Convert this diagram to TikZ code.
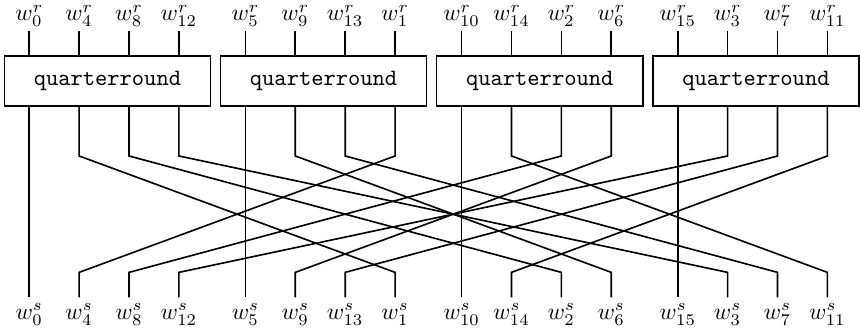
\documentclass[tikz,border=0pt]{standalone}
\usetikzlibrary{positioning}

\begin{document}
\begin{tikzpicture}[
  wire/.style={line width=0.7pt},
  qbox/.style={
    draw,
    line width=0.7pt,
    minimum width=3.1cm,
    minimum height=0.75cm,
    font=\ttfamily
  },
  inlabel/.style={anchor=south, inner sep=1.8pt},
  outlabel/.style={anchor=north, inner sep=2.6pt}
]
\useasboundingbox (-0.44,0.47) rectangle (12.49,-4.52);

% Kink heights
\coordinate (high) at (0,-1.875);
\coordinate (low) at (0,-3.625);

% Input words
\node[inlabel] (r0)  at (0,0)     {$w^r_{0}$};
\node[inlabel] (r4)  at (0.75,0)  {$w^r_{4}$};
\node[inlabel] (r8)  at (1.5,0)   {$w^r_{8}$};
\node[inlabel] (r12) at (2.25,0)  {$w^r_{12}$};
\node[inlabel] (r5)  at (3.25,0)  {$w^r_{5}$};
\node[inlabel] (r9)  at (4,0)     {$w^r_{9}$};
\node[inlabel] (r13) at (4.75,0)  {$w^r_{13}$};
\node[inlabel] (r1)  at (5.5,0)   {$w^r_{1}$};
\node[inlabel] (r10) at (6.5,0)   {$w^r_{10}$};
\node[inlabel] (r14) at (7.25,0)  {$w^r_{14}$};
\node[inlabel] (r2)  at (8,0)     {$w^r_{2}$};
\node[inlabel] (r6)  at (8.75,0)  {$w^r_{6}$};
\node[inlabel] (r15) at (9.75,0)  {$w^r_{15}$};
\node[inlabel] (r3)  at (10.5,0)  {$w^r_{3}$};
\node[inlabel] (r7)  at (11.25,0) {$w^r_{7}$};
\node[inlabel] (r11) at (12,0)    {$w^r_{11}$};

% Quarterround boxes
\node[qbox] (qr0) at (1.175,-0.75)  {quarterround};
\node[qbox] (qr1) at (4.425,-0.75)  {quarterround};
\node[qbox] (qr2) at (7.675,-0.75)  {quarterround};
\node[qbox] (qr3) at (10.925,-0.75) {quarterround};

% Output words
\node[outlabel] (s0)  at (0,-4)     {$w^s_{0}$};
\node[outlabel] (s4)  at (0.75,-4)  {$w^s_{4}$};
\node[outlabel] (s8)  at (1.5,-4)   {$w^s_{8}$};
\node[outlabel] (s12) at (2.25,-4)  {$w^s_{12}$};
\node[outlabel] (s5)  at (3.25,-4)  {$w^s_{5}$};
\node[outlabel] (s9)  at (4,-4)     {$w^s_{9}$};
\node[outlabel] (s13) at (4.75,-4)  {$w^s_{13}$};
\node[outlabel] (s1)  at (5.5,-4)   {$w^s_{1}$};
\node[outlabel] (s10) at (6.5,-4)   {$w^s_{10}$};
\node[outlabel] (s14) at (7.25,-4)  {$w^s_{14}$};
\node[outlabel] (s2)  at (8,-4)     {$w^s_{2}$};
\node[outlabel] (s6)  at (8.75,-4)  {$w^s_{6}$};
\node[outlabel] (s15) at (9.75,-4)  {$w^s_{15}$};
\node[outlabel] (s3)  at (10.5,-4)  {$w^s_{3}$};
\node[outlabel] (s7)  at (11.25,-4) {$w^s_{7}$};
\node[outlabel] (s11) at (12,-4)    {$w^s_{11}$};

% Wires into the boxes
\draw[wire] (r0) -- (r0 |- qr0.north);
\draw[wire] (r4) -- (r4 |- qr0.north);
\draw[wire] (r8) -- (r8 |- qr0.north);
\draw[wire] (r12) -- (r12 |- qr0.north);
\draw[wire] (r5) -- (r5 |- qr1.north);
\draw[wire] (r9) -- (r9 |- qr1.north);
\draw[wire] (r13) -- (r13 |- qr1.north);
\draw[wire] (r1) -- (r1 |- qr1.north);
\draw[wire] (r10) -- (r10 |- qr2.north);
\draw[wire] (r14) -- (r14 |- qr2.north);
\draw[wire] (r2) -- (r2 |- qr2.north);
\draw[wire] (r6) -- (r6 |- qr2.north);
\draw[wire] (r15) -- (r15 |- qr3.north);
\draw[wire] (r3) -- (r3 |- qr3.north);
\draw[wire] (r7) -- (r7 |- qr3.north);
\draw[wire] (r11) -- (r11 |- qr3.north);

% Wires out of the boxes (transposed)
\draw[wire] (r0 |- qr0.south) -- (s0);
\draw[wire] (r4 |- qr0.south) -- (r4 |- high) -- (s1 |- low) -- (s1);
\draw[wire] (r8 |- qr0.south) -- (r8 |- high) -- (s2 |- low) -- (s2);
\draw[wire] (r12 |- qr0.south) -- (r12 |- high) -- (s3 |- low) -- (s3);
\draw[wire] (r5 |- qr1.south) -- (s5);
\draw[wire] (r9 |- qr1.south) -- (r9 |- high) -- (s6 |- low) -- (s6);
\draw[wire] (r13 |- qr1.south) -- (r13 |- high) -- (s7 |- low) -- (s7);
\draw[wire] (r1 |- qr1.south) -- (r1 |- high) -- (s4 |- low) -- (s4);
\draw[wire] (r10 |- qr2.south) -- (s10);
\draw[wire] (r14 |- qr2.south) -- (r14 |- high) -- (s11 |- low) -- (s11);
\draw[wire] (r2 |- qr2.south) -- (r2 |- high) -- (s8 |- low) -- (s8);
\draw[wire] (r6 |- qr2.south) -- (r6 |- high) -- (s9 |- low) -- (s9);
\draw[wire] (r15 |- qr3.south) -- (s15);
\draw[wire] (r3 |- qr3.south) -- (r3 |- high) -- (s12 |- low) -- (s12);
\draw[wire] (r7 |- qr3.south) -- (r7 |- high) -- (s13 |- low) -- (s13);
\draw[wire] (r11 |- qr3.south) -- (r11 |- high) -- (s14 |- low) -- (s14);

\end{tikzpicture}
\end{document}
